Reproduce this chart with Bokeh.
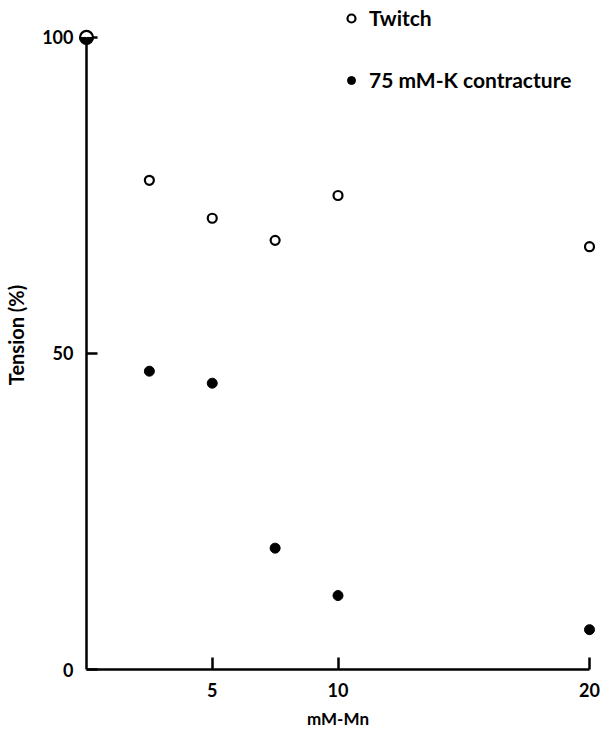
from math import pi
from bokeh.plotting import figure
from bokeh.models import Range1d, Legend, LegendItem, FixedTicker
from bokeh.embed import file_html
from bokeh.resources import INLINE

# data (mM Mn, tension %)
mn_mM = [2.5, 5, 7.5, 10, 20]
twitch = [77.4, 71.4, 67.9, 75.0, 66.9]
contracture = [47.2, 45.3, 19.2, 11.7, 6.3]
control_mM = [0]
control_tension = [100]
x_ticks = [5, 10, 20]
y_ticks = [0, 50, 100]

FONT = "Lato"

p = figure(frame_width=503, frame_height=669,
           x_range=Range1d(0, 20), y_range=Range1d(0, 105.85),
           output_backend="svg", toolbar_location=None,
           min_border_left=86, min_border_right=12, min_border_top=0, min_border_bottom=0)
p.grid.visible = False
p.outline_line_color = None
p.background_fill_color = "white"

for ax in (p.xaxis[0], p.yaxis[0]):
    ax.axis_line_width = 2.5
    ax.axis_line_color = "black"
    ax.major_tick_line_width = 2.5
    ax.major_tick_line_color = "black"
    ax.major_tick_out = 0
    ax.minor_tick_line_color = None
    ax.major_label_text_font = FONT
    ax.major_label_text_font_style = "bold"
    ax.major_label_text_font_size = "18px"
    ax.major_label_text_color = "black"
    ax.axis_label_text_font = FONT
    ax.axis_label_text_font_style = "bold"
    ax.axis_label_text_font_size = "17px"
    ax.axis_label_text_color = "black"

xa = p.xaxis[0]
xa.ticker = FixedTicker(ticks=x_ticks)
xa.bounds = (0, 20)
xa.major_tick_in = 12
xa.major_label_standoff = 13
xa.axis_label = "mM-Mn"
xa.axis_label_standoff = 8

ya = p.yaxis[0]
ya.ticker = FixedTicker(ticks=y_ticks)
ya.bounds = (0, 100)
ya.major_tick_in = 11
ya.major_label_standoff = 13
ya.axis_label = "Tension (%)"
ya.axis_label_text_font_size = "20px"
ya.axis_label_standoff = 11

r_tw = p.scatter(mn_mM, twitch, marker="circle", size=9, fill_color="white",
                 line_color="black", line_width=2.2, level="overlay")
r_co = p.scatter(mn_mM, contracture, marker="circle", size=10, fill_color="black",
                 line_color="black", line_width=1, level="overlay")

p.scatter(control_mM, control_tension, marker="circle", size=13, fill_color="white",
          line_color="black", line_width=2.2, level="overlay")
p.wedge(x=control_mM, y=control_tension, radius=6.5, radius_units="screen",
        start_angle=pi, end_angle=2 * pi, fill_color="black", line_color="black",
        level="overlay")

legend = Legend(items=[LegendItem(label="Twitch", renderers=[r_tw]),
                       LegendItem(label="75 mM-K contracture", renderers=[r_co])],
                location=(255, 577))
legend.border_line_color = None
legend.background_fill_alpha = 0
legend.padding = 0
legend.margin = 0
legend.glyph_width = 20
legend.glyph_height = 20
legend.label_height = 20
legend.label_standoff = 8
legend.spacing = 37
legend.label_text_font = FONT
legend.label_text_font_style = "bold"
legend.label_text_font_size = "21px"
legend.label_text_color = "black"
p.add_layout(legend)

open("out.html", "w").write(file_html(p, INLINE))
